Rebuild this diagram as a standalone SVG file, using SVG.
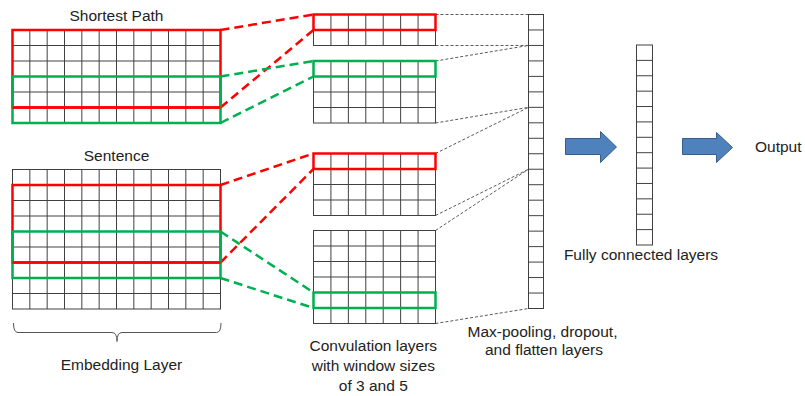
<svg xmlns="http://www.w3.org/2000/svg" width="805" height="396" viewBox="0 0 805 396">
<style>
.grid{fill:#fff;stroke:#404040;stroke-width:1}
.gl{fill:none;stroke:#404040;stroke-width:1}
.red{fill:none;stroke:#ff0000;stroke-width:2.5}
.green{fill:none;stroke:#00b050;stroke-width:2.5}
.dr{fill:none;stroke:#ff0000;stroke-width:2.5;stroke-dasharray:9 5}
.dg{fill:none;stroke:#00b050;stroke-width:2.5;stroke-dasharray:9 5}
.dot{fill:none;stroke:#595959;stroke-width:1;stroke-dasharray:3 2}
.arrow{fill:#4f81bd;stroke:#385d8a;stroke-width:1}
.t{font-family:"Liberation Sans",Arial,sans-serif;font-size:15.5px;fill:#222;text-anchor:middle}
</style>
<rect width="805" height="396" fill="#fff"/>

<g id="connectors">
  <line class="dr" x1="220.5" y1="30" x2="313.5" y2="14.5"/>
  <line class="dr" x1="220.5" y1="107.5" x2="313.5" y2="30"/>
  <line class="dg" x1="220.5" y1="76.5" x2="313.5" y2="61"/>
  <line class="dg" x1="220.5" y1="123" x2="313.5" y2="76.5"/>
  <line class="dr" x1="220.5" y1="185" x2="313.5" y2="153.5"/>
  <line class="dr" x1="220.5" y1="262.5" x2="313.5" y2="169"/>
  <line class="dg" x1="220.5" y1="231.5" x2="313.5" y2="292.5"/>
  <line class="dg" x1="220.5" y1="278" x2="313.5" y2="308"/>
  <line class="dot" x1="435.5" y1="14.5" x2="528.5" y2="14.5"/>
  <line class="dot" x1="435.5" y1="45.5" x2="528.5" y2="45.45"/>
  <line class="dot" x1="435.5" y1="61" x2="528.5" y2="45.45"/>
  <line class="dot" x1="435.5" y1="123" x2="528.5" y2="107.34"/>
  <line class="dot" x1="435.5" y1="153.5" x2="528.5" y2="107.34"/>
  <line class="dot" x1="435.5" y1="215.5" x2="528.5" y2="169.24"/>
  <line class="dot" x1="435.5" y1="230.5" x2="528.5" y2="169.24"/>
  <line class="dot" x1="435.5" y1="323.5" x2="528.5" y2="308.5"/>
</g>

<g id="shortest-path">
  <text class="t" x="116.5" y="20.5">Shortest Path</text>
  <rect class="grid" x="12.5" y="30" width="208" height="93"/>
  <path class="gl" d="M29.83,30V123M47.17,30V123M64.5,30V123M81.83,30V123M99.17,30V123M116.5,30V123M133.83,30V123M151.17,30V123M168.5,30V123M185.83,30V123M203.17,30V123M12.5,45.5H220.5M12.5,61H220.5M12.5,76.5H220.5M12.5,92H220.5M12.5,107.5H220.5"/>
  <rect class="red" x="12.5" y="30" width="208" height="77.5"/>
  <rect class="green" x="12.5" y="76.5" width="208" height="46.5"/>
  <line class="red" x1="12.5" y1="107.5" x2="220.5" y2="107.5"/>
</g>

<g id="sentence">
  <text class="t" x="116.5" y="160.5">Sentence</text>
  <rect class="grid" x="12.5" y="169.5" width="208" height="139.5"/>
  <path class="gl" d="M29.83,169.5V309M47.17,169.5V309M64.5,169.5V309M81.83,169.5V309M99.17,169.5V309M116.5,169.5V309M133.83,169.5V309M151.17,169.5V309M168.5,169.5V309M185.83,169.5V309M203.17,169.5V309M12.5,185H220.5M12.5,200.5H220.5M12.5,216H220.5M12.5,231.5H220.5M12.5,247H220.5M12.5,262.5H220.5M12.5,278H220.5M12.5,293.5H220.5"/>
  <rect class="red" x="12.5" y="185" width="208" height="77.5"/>
  <rect class="green" x="12.5" y="231.5" width="208" height="46.5"/>
  <line class="red" x1="12.5" y1="262.5" x2="220.5" y2="262.5"/>
</g>

<g id="embedding-label">
  <path fill="none" stroke="#555" stroke-width="1" d="M13.5,323Q13.5,332.5 18,332.5L112,332.5Q117,332.5 117,341.5Q117,332.5 122,332.5L216.5,332.5Q221,332.5 221,323"/>
  <text class="t" x="121.5" y="370">Embedding Layer</text>
</g>

<g id="conv-1">
  <rect class="grid" x="313.5" y="14.5" width="122" height="31"/>
  <path class="gl" d="M330.93,14.5V45.5M348.36,14.5V45.5M365.79,14.5V45.5M383.21,14.5V45.5M400.64,14.5V45.5M418.07,14.5V45.5M313.5,30H435.5"/>
  <rect class="red" x="313.5" y="14.5" width="122" height="15.5"/>
</g>

<g id="conv-2">
  <rect class="grid" x="313.5" y="61" width="122" height="62"/>
  <path class="gl" d="M330.93,61V123M348.36,61V123M365.79,61V123M383.21,61V123M400.64,61V123M418.07,61V123M313.5,76.5H435.5M313.5,92H435.5M313.5,107.5H435.5"/>
  <rect class="green" x="313.5" y="61" width="122" height="15.5"/>
</g>

<g id="conv-3">
  <rect class="grid" x="313.5" y="153.5" width="122" height="62"/>
  <path class="gl" d="M330.93,153.5V215.5M348.36,153.5V215.5M365.79,153.5V215.5M383.21,153.5V215.5M400.64,153.5V215.5M418.07,153.5V215.5M313.5,169H435.5M313.5,184.5H435.5M313.5,200H435.5"/>
  <rect class="red" x="313.5" y="153.5" width="122" height="15.5"/>
</g>

<g id="conv-4">
  <rect class="grid" x="313.5" y="230.5" width="122" height="93"/>
  <path class="gl" d="M330.93,230.5V323.5M348.36,230.5V323.5M365.79,230.5V323.5M383.21,230.5V323.5M400.64,230.5V323.5M418.07,230.5V323.5M313.5,246H435.5M313.5,261.5H435.5M313.5,277H435.5M313.5,292.5H435.5M313.5,308H435.5"/>
  <rect class="green" x="313.5" y="292.5" width="122" height="15.5"/>
</g>

<g id="conv-label">
  <text class="t" x="373.3" y="351">Convulation layers</text>
  <text class="t" x="373.3" y="371">with window sizes</text>
  <text class="t" x="373.3" y="391">of 3 and 5</text>
</g>

<g id="pooling">
  <rect class="grid" x="528.5" y="14.5" width="15" height="294"/>
  <path class="gl" d="M528.5,29.97H543.5M528.5,45.45H543.5M528.5,60.92H543.5M528.5,76.39H543.5M528.5,91.87H543.5M528.5,107.34H543.5M528.5,122.82H543.5M528.5,138.29H543.5M528.5,153.76H543.5M528.5,169.24H543.5M528.5,184.71H543.5M528.5,200.18H543.5M528.5,215.66H543.5M528.5,231.13H543.5M528.5,246.61H543.5M528.5,262.08H543.5M528.5,277.55H543.5M528.5,293.03H543.5"/>
  <text class="t" x="542.5" y="337">Max-pooling, dropout,</text>
  <text class="t" x="544" y="355">and flatten layers</text>
</g>

<g id="arrow-1">
  <polygon class="arrow" points="565.5,138.5 600.5,138.5 600.5,131.5 616.5,147 600.5,162.5 600.5,154.5 565.5,154.5"/>
</g>

<g id="fully-connected">
  <rect class="grid" x="636.5" y="45" width="16" height="200"/>
  <path class="gl" d="M636.5,60.38H652.5M636.5,75.77H652.5M636.5,91.15H652.5M636.5,106.54H652.5M636.5,121.92H652.5M636.5,137.31H652.5M636.5,152.69H652.5M636.5,168.08H652.5M636.5,183.46H652.5M636.5,198.85H652.5M636.5,214.23H652.5M636.5,229.62H652.5"/>
  <text class="t" x="641" y="260">Fully connected layers</text>
</g>

<g id="arrow-2">
  <polygon class="arrow" points="682.5,138.5 716.5,138.5 716.5,132.5 732.5,147.5 716.5,162.5 716.5,154.5 682.5,154.5"/>
</g>

<g id="output">
  <text class="t" x="755" y="152" style="text-anchor:start">Output</text>
</g>
</svg>
